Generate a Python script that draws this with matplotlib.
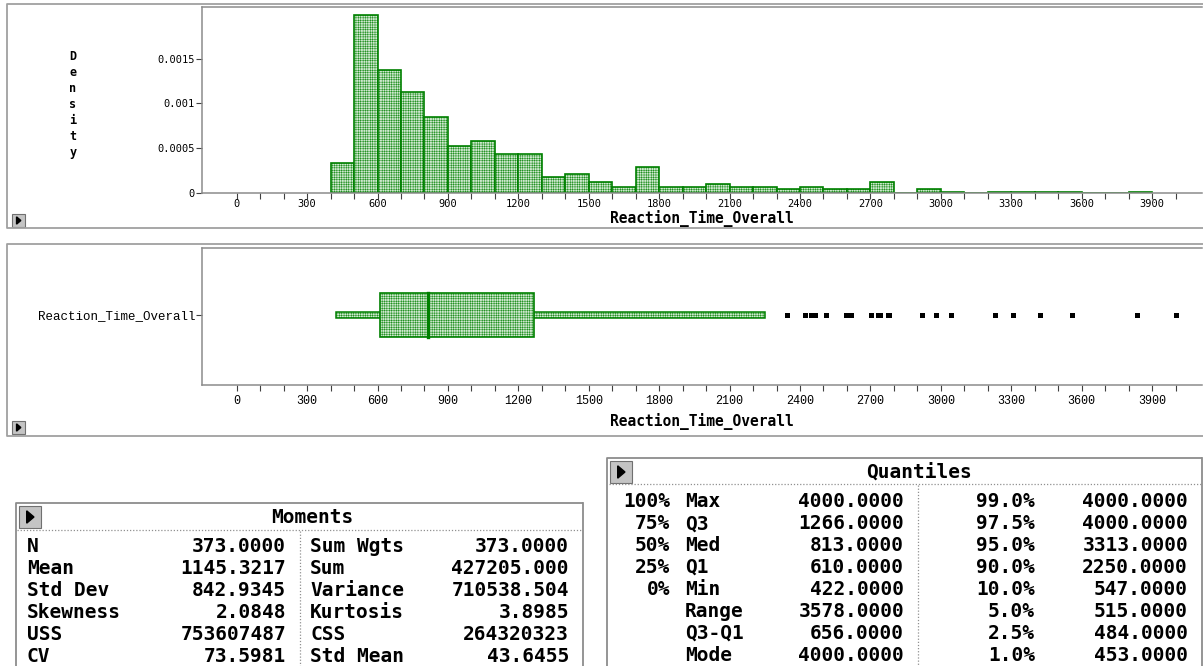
import matplotlib
matplotlib.use("Agg")
import matplotlib.pyplot as plt
from matplotlib.patches import Rectangle, Polygon
from matplotlib.ticker import FixedLocator
import numpy as np

# histogram bins (start of each 100-wide bin) and densities
bin_starts = [400, 500, 600, 700, 800, 900, 1000, 1100, 1200, 1300, 1400, 1500,
              1600, 1700, 1800, 1900, 2000, 2100, 2200, 2300, 2400, 2500, 2600,
              2700, 2800, 2900, 3000, 3100, 3200, 3300, 3400, 3500, 3600, 3700, 3800]
density = [0.00034, 0.00199, 0.00137, 0.00113, 0.00085, 0.00053, 0.000585, 0.00043,
           0.00043, 0.00018, 0.00021, 0.00012, 0.000067, 0.00029, 0.000067, 0.000067,
           0.000105, 0.000067, 0.000067, 0.00005, 0.000067, 0.000045, 0.000045,
           0.00012, 0.0, 0.000045, 0.000016, 0.0, 0.000016, 0.000016, 0.000016,
           0.000016, 0.0, 0.0, 0.000016]
bin_width = 100

# box plot
whisker_lo, q1, med, q3, whisker_hi = 422, 610, 813, 1266, 2250
outliers = [2343, 2422, 2447, 2464, 2511, 2595, 2607, 2619, 2701, 2734, 2740,
            2773, 2780, 2918, 2980, 3042, 3231, 3309, 3423, 3560, 3838, 4000]

var_name = "Reaction_Time_Overall"
y_ticks = [0, 0.0005, 0.001, 0.0015]
y_tick_labels = ["0", "0.0005", "0.001", "0.0015"]
x_ticks = [0, 300, 600, 900, 1200, 1500, 1800, 2100, 2400, 2700, 3000, 3300, 3600, 3900]

# tables
mom_lab1 = ["N", "Mean", "Std Dev", "Skewness", "USS", "CV"]
mom_val1 = ["373.0000", "1145.3217", "842.9345", "2.0848", "753607487", "73.5981"]
mom_lab2 = ["Sum Wgts", "Sum", "Variance", "Kurtosis", "CSS", "Std Mean"]
mom_val2 = ["373.0000", "427205.000", "710538.504", "3.8985", "264320323", "43.6455"]

q_pct1 = ["100%", "75%", "50%", "25%", "0%", "", "", ""]
q_name1 = ["Max", "Q3", "Med", "Q1", "Min", "Range", "Q3-Q1", "Mode"]
q_val1 = ["4000.0000", "1266.0000", "813.0000", "610.0000", "422.0000",
          "3578.0000", "656.0000", "4000.0000"]
q_pct2 = ["99.0%", "97.5%", "95.0%", "90.0%", "10.0%", "5.0%", "2.5%", "1.0%"]
q_val2 = ["4000.0000", "4000.0000", "3313.0000", "2250.0000", "547.0000",
          "515.0000", "484.0000", "453.0000"]

W, H = 1203, 666
GREEN = "#008000"
FILL = "#d0e9d0"
GREY = "#8c8c8c"
plt.rcParams['hatch.linewidth'] = 0.3

fig = plt.figure(figsize=(W / 100, H / 100), dpi=100)

def px_axes(left, top, right, bottom):
	return fig.add_axes([left / W, 1 - bottom / H, (right - left) / W, (bottom - top) / H])

# background layer in pixel coordinates
bg = fig.add_axes([0, 0, 1, 1])
bg.set_xlim(0, W)
bg.set_ylim(H, 0)
bg.axis('off')

def frame(x0, y0, x1, y1, color="#a0a0a0"):
	bg.plot([x1, x0, x0, x1], [y0, y0, y1, y1], color=color, lw=1.3, solid_capstyle='butt')

def button(x0, y0, s):
	bg.add_patch(Rectangle((x0, y0), s, s, facecolor="#c4c4c4", edgecolor="#707070", lw=0.8))
	bg.add_patch(Polygon([[x0 + s * 0.35, y0 + s * 0.22], [x0 + s * 0.35, y0 + s * 0.78],
	                      [x0 + s * 0.68, y0 + s * 0.5]], closed=True, color="black"))

frame(7, 4, W + 5, 228)
frame(7, 244, W + 5, 436)
button(12, 214, 13)
button(12, 421, 13)

xmin = (202 - 236.7) / 0.2347
xmax = (1202 - 236.7) / 0.2347

def style_axes(ax):
	for s in ['left', 'top', 'bottom']:
		ax.spines[s].set_color(GREY)
		ax.spines[s].set_linewidth(1.1)
	ax.spines['right'].set_visible(False)
	ax.set_facecolor('none')
	ax.set_xlim(xmin, xmax)
	ax.xaxis.set_major_locator(FixedLocator(x_ticks))
	ax.xaxis.set_minor_locator(FixedLocator(np.arange(0, 4001, 100)))
	ax.tick_params(which='both', direction='out', length=4, width=0.8, color='#404040')

# histogram
ax1 = px_axes(202, 7.3, 1202, 193)
ax1.bar(bin_starts, density, width=bin_width, align='edge', facecolor=FILL,
        edgecolor=GREEN, linewidth=1.2, hatch='+++++++')
style_axes(ax1)
ax1.set_ylim(0, 185.7 * 0.0005 / 44.8)
ax1.set_yticks(y_ticks)
ax1.set_yticklabels(y_tick_labels, fontfamily='DejaVu Sans Mono', fontsize=7.5)
ax1.set_xticklabels([str(v) for v in x_ticks], fontfamily='DejaVu Sans Mono', fontsize=7.5)
ax1.tick_params(axis='y', pad=1)
ax1.tick_params(axis='x', pad=0.5)
ax1.set_xlabel(var_name, fontfamily='DejaVu Sans Mono', fontweight='bold', fontsize=10.5, va='center')
ax1.xaxis.set_label_coords(0.5, -25.5 / 185.7)
ax1.set_ylabel("\n".join("Density"), rotation=0, fontfamily='DejaVu Sans Mono',
               fontweight='bold', fontsize=8.5, linespacing=1.3, va='center', ha='center')
ax1.yaxis.set_label_coords(-0.129, 0.474)

# box plot
ax2 = px_axes(202, 247.7, 1202, 385)
ax2.barh(0, whisker_hi - whisker_lo, left=whisker_lo, height=0.079, facecolor=FILL,
         edgecolor=GREEN, linewidth=1.1, hatch='+++++++', zorder=2)
ax2.barh(0, q3 - q1, left=q1, height=0.64, facecolor=FILL, edgecolor=GREEN,
         linewidth=1.2, hatch='+++++++', zorder=3)
ax2.plot([med, med], [-0.32, 0.32], color=GREEN, lw=2.4, zorder=4)
ax2.plot(outliers, np.zeros(len(outliers)), 's', color='black', ms=3.6, mew=0, zorder=4)
style_axes(ax2)
ax2.set_ylim(-1.02, 0.98)
ax2.set_yticks([0])
ax2.set_yticklabels([var_name], fontfamily='Liberation Mono', fontsize=9)
ax2.set_xticklabels([str(v) for v in x_ticks], fontfamily='Liberation Mono', fontsize=8.5)
ax2.tick_params(axis='y', pad=1)
ax2.tick_params(axis='x', pad=3)
ax2.set_xlabel(var_name, fontfamily='DejaVu Sans Mono', fontweight='bold', fontsize=10.5, va='center')
ax2.xaxis.set_label_coords(0.5, -36 / 137.3)

# tables
tf = dict(fontfamily='DejaVu Sans Mono', fontweight='bold', fontsize=14, va='center', color='black')
dot = dict(color='#909090', lw=0.9, ls=(0, (1, 1.5)))
row_h = 21.95

# Moments
frame(15.7, 502.7, 582.7, H + 5, color=GREY)
bg.plot([582.7, 582.7], [502.7, H + 5], color=GREY, lw=1.3)
button(19, 506, 22)
bg.text(312, 517.7, "Moments", ha='center', **tf)
bg.plot([17, 581], [530, 530], **dot)
bg.plot([300, 300], [531, H], **dot)
for i in range(len(mom_lab1)):
	y = 546.3 + i * row_h
	bg.text(26.7, y, mom_lab1[i], ha='left', **tf)
	bg.text(286, y, mom_val1[i], ha='right', **tf)
	bg.text(310, y, mom_lab2[i], ha='left', **tf)
	bg.text(569, y, mom_val2[i], ha='right', **tf)

# Quantiles
frame(607.3, 458.3, 1202, H + 5, color=GREY)
bg.plot([1202, 1202], [458.3, H + 5], color=GREY, lw=1.3)
button(610, 461, 22)
bg.text(919, 472.5, "Quantiles", ha='center', **tf)
bg.plot([609, 1201], [484.3, 484.3], **dot)
bg.plot([918, 918], [485, H], **dot)
for i in range(len(q_name1)):
	y = 501.7 + i * row_h
	bg.text(670, y, q_pct1[i], ha='right', **tf)
	bg.text(685, y, q_name1[i], ha='left', **tf)
	bg.text(904, y, q_val1[i], ha='right', **tf)
	bg.text(1035, y, q_pct2[i], ha='right', **tf)
	bg.text(1188, y, q_val2[i], ha='right', **tf)

fig.savefig("out.png", dpi=100)
